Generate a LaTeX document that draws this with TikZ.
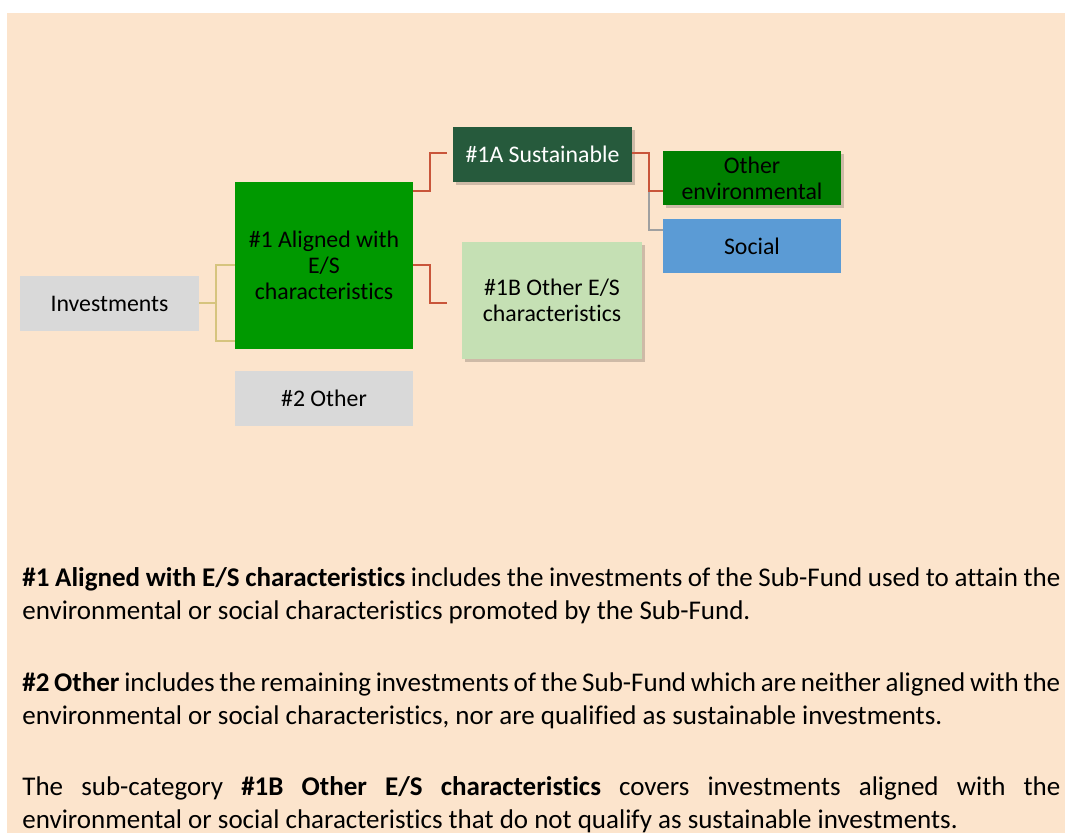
\documentclass[tikz,border=0pt]{standalone}
\usepackage{fontspec}
\setmainfont{Carlito}[Ligatures=NoCommon]
\usetikzlibrary{shadows}

\definecolor{peach}{HTML}{FCE4CC}
\definecolor{boxgray}{HTML}{D9D9D9}
\definecolor{aligngreen}{HTML}{009900}
\definecolor{sustgreen}{HTML}{265A3C}
\definecolor{othergreen}{HTML}{C5E0B4}
\definecolor{envgreen}{HTML}{007F00}
\definecolor{socialblue}{HTML}{5B9BD5}
\definecolor{tanline}{HTML}{D6C47E}
\definecolor{redline}{HTML}{C9553A}
\definecolor{grayline}{HTML}{A0A0A0}

\tikzset{
  box/.style={rectangle, inner sep=0pt, outer sep=0pt, align=center,
    font=\fontsize{11.9}{13}\selectfont, text=black},
  shadowbox/.style={box, drop shadow={shadow xshift=1.5pt, shadow yshift=-1.5pt,
    opacity=0.18, fill=black}},
  para/.style={anchor=base west, inner sep=0pt, text width=519pt, align=justify,
    font=\fontsize{13.5}{16.5}\selectfont},
}

\begin{document}
\begin{tikzpicture}[x=0.5pt,y=-0.5pt]
\useasboundingbox (0,0) rectangle (1065,833);
\fill[peach] (7,13) rectangle (1065,833);

% boxes
\node[box, fill=boxgray, minimum width=89.5pt, minimum height=27.5pt] (inv) at (109.5,303.5) {Investments};
\node[box, fill=aligngreen, minimum width=89pt, minimum height=83.5pt] (al) at (324,265.5) {\#1 Aligned with\\E/S\\characteristics};
\node[box, fill=boxgray, minimum width=89pt, minimum height=27.5pt] (oth) at (324,398.5) {\#2 Other};
\node[shadowbox, fill=sustgreen, text=white, minimum width=89.5pt, minimum height=27.5pt] (sus) at (542.5,154.5) {\#1A Sustainable};
\node[shadowbox, fill=othergreen, minimum width=90pt, minimum height=58.5pt] (oes) at (552,300.5) {\#1B Other E/S\\characteristics};
\node[shadowbox, fill=envgreen, minimum width=89pt, minimum height=27pt] (env) at (752,178) {Other\\environmental};
\node[box, fill=socialblue, minimum width=89pt, minimum height=27pt] (soc) at (752,246) {Social};

% connectors
\draw[tanline, line width=1pt] (inv.east) -- (216,303.5);
\draw[tanline, line width=1pt] (al.west |- 0,265) -| (216,341) -- (al.west |- 0,341);
\draw[redline, line width=1pt] (al.east |- 0,191) -| (430,153.5) -- (447,153.5);
\draw[redline, line width=1pt] (al.east |- 0,265) -| (430,303) -- (447,303);
\draw[grayline, line width=0.8pt] (649,191.5) |- (soc.west |- 0,230);
\draw[redline, line width=1pt] (sus.east |- 0,153.5) -| (649,191.5) -- (env.west |- 0,191.5);

% text below
\node[para] (p1) at (22,587) {\textbf{\#1 Aligned with E/S characteristics} includes the investments of the Sub-Fund used to attain the\linebreak environmental or social characteristics promoted by the Sub-Fund.};
\node[para] (p2) at (22,691) {\textbf{\#2 Other} includes the remaining investments of the Sub-Fund which are neither aligned with the\linebreak environmental or social characteristics, nor are qualified as sustainable investments.};
\node[para] (p3) at (22,795) {The sub-category \textbf{\#1B Other E/S characteristics} covers investments aligned with the\linebreak environmental or social characteristics that do not qualify as sustainable investments.};
\end{tikzpicture}
\end{document}
